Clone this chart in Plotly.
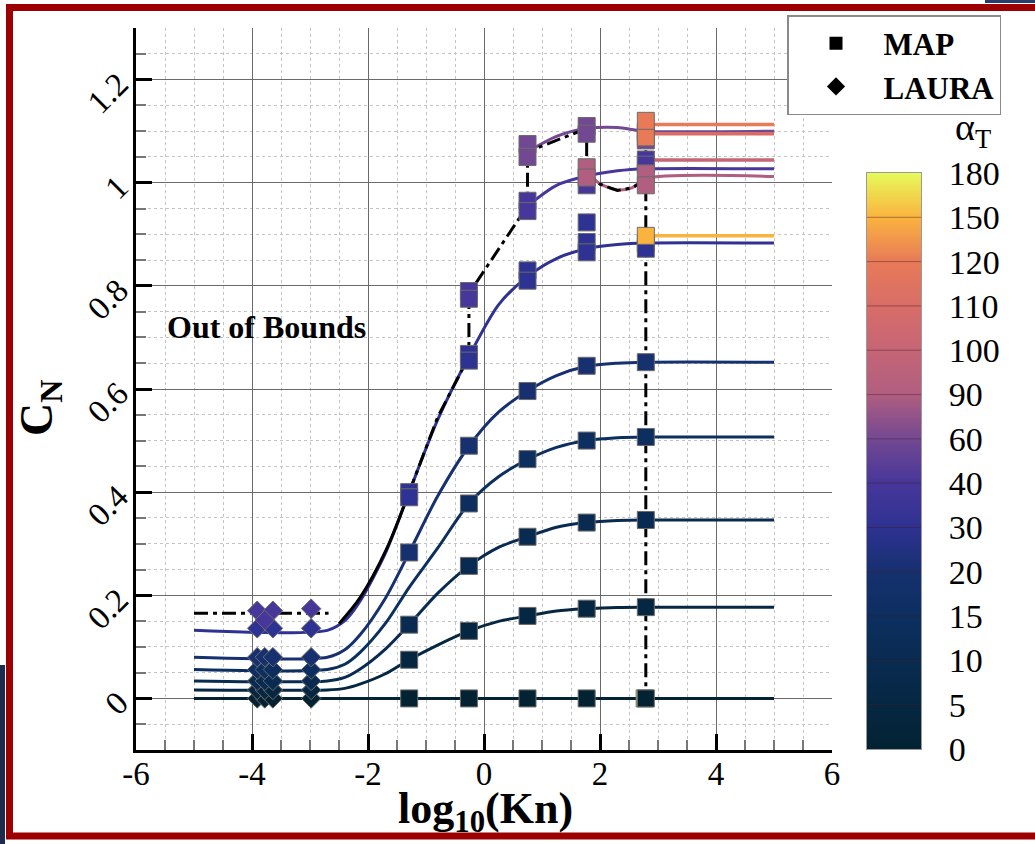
import plotly.graph_objects as go
import plotly.colors as pc

# ---------------- colour levels: alpha_T in degrees ----------------
alpha_levels = [0, 5, 10, 15, 20, 30, 40, 60, 90, 100, 110, 120, 150, 180]
alpha_ticktext = [str(a) for a in alpha_levels]

# ---------------- axis tick labels ----------------
x_tickvals = [-6, -4, -2, 0, 2, 4, 6]
x_ticktext = ["-6", "-4", "-2", "0", "2", "4", "6"]
y_tickvals = [0, 0.2, 0.4, 0.6, 0.8, 1.0, 1.2]
y_ticktext = ["0", "0.2", "0.4", "0.6", "0.8", "1", "1.2"]

# ---------------- bridging curves: C_N vs log10(Kn) ----------------
knot_x = [-5.0, -2.7, -2.4, -2.14, -1.7, -1.29, -0.8, -0.26, 0.25, 0.75, 1.25, 1.77, 2.3, 2.79, 5.0]
cn_a0 = [0, 0, 0, 0, 0, 0, 0, 0, 0, 0, 0, 0, 0, 0, 0]
cn_a5 = [0.0165, 0.0165, 0.0195, 0.0276, 0.0478, 0.075, 0.1035, 0.131, 0.1495, 0.160, 0.1697, 0.174, 0.1765, 0.177, 0.177]
cn_a10 = [0.034, 0.034, 0.0408, 0.0565, 0.0956, 0.143, 0.2036, 0.257, 0.293, 0.3135, 0.332, 0.341, 0.345, 0.346, 0.346]
cn_a15 = [0.056, 0.056, 0.0663, 0.0889, 0.1454, 0.2155, 0.2913, 0.378, 0.430, 0.463, 0.4867, 0.500, 0.5056, 0.507, 0.507]
cn_a20 = [0.080, 0.080, 0.0943, 0.1229, 0.1944, 0.283, 0.392, 0.489, 0.555, 0.596, 0.626, 0.644, 0.650, 0.652, 0.652]
cn_a30 = [0.132, 0.132, 0.1507, 0.1882, 0.2818, 0.400, 0.540, 0.663, 0.763, 0.818, 0.853, 0.872, 0.880, 0.883, 0.883]

a40_x = [0.75, 1.25, 1.77, 2.3, 2.79, 5.0]
a40_cn = [0.955, 0.995, 1.013, 1.023, 1.027, 1.027]
a60_x = [0.75, 1.25, 1.77, 2.3, 2.79, 5.0]
a60_cn = [1.06, 1.09, 1.105, 1.107, 1.100, 1.100]
a90_x = [1.77, 2.0, 2.3, 2.55, 2.79, 5.0]
a90_cn = [1.02, 0.998, 0.986, 0.99, 1.008, 1.012]

plateau_x = [2.79, 5.0]
plateau_alpha = [100, 110, 120, 150]
plateau_cn = [1.044, 1.095, 1.113, 0.897]

# ---------------- validity boundary (dash-dot) ----------------
bound_x = [-5.0, -2.68, None, -1.29, -0.8, -0.26, -0.26, 0.75, 0.75, 1.77, 1.77, 2.0, 2.3, 2.55, 2.79, None, 2.79, 2.79]
bound_cn = [0.165, 0.165, None, 0.40, 0.545, 0.663, 0.785, 0.955, 1.06, 1.105, 1.02, 0.997, 0.985, 0.99, 1.005, None, 1.10, 0.0]
bound_solid_x = [-2.5, -2.14, -1.7, -1.29]
bound_solid_cn = [0.145, 0.195, 0.285, 0.40]

# ---------------- MAP points ----------------
map_x = [2.77,
         -1.29, -0.26, 0.75, 1.77, 2.79,
         -1.29, -0.26, 0.75, 1.77, 2.79,
         -1.29, -0.26, 0.75, 1.77, 2.79,
         -0.26, 0.75, 1.77, 2.79,
         -1.29, -0.26, 0.75, 1.77, 2.79,
         -1.29, -1.29, -0.26, -0.26, 0.75, 0.75, 1.77, 1.77, 1.77, 2.79, 2.79,
         -0.26, -0.26, 0.75, 0.75, 1.77, 2.79, 2.79,
         0.75, 0.75, 1.77, 1.77, 2.79, 2.79,
         1.77, 1.77, 2.79, 2.79,
         2.79, 2.79,
         2.79]
map_cn = [0.0,
          0.0, 0.0, 0.0, 0.0, 0.0,
          0.075, 0.131, 0.160, 0.174, 0.177,
          0.143, 0.257, 0.3135, 0.341, 0.346,
          0.378, 0.464, 0.500, 0.507,
          0.283, 0.490, 0.596, 0.645, 0.652,
          0.40, 0.39, 0.668, 0.655, 0.83, 0.81, 0.885, 0.865, 0.923, 0.882, 0.872,
          0.79, 0.775, 0.965, 0.945, 0.995, 1.045, 1.035,
          1.075, 1.05, 1.11, 1.095, 1.098, 1.082,
          1.03, 1.01, 1.018, 0.995,
          1.088, 1.12,
          0.897]
map_alpha = [180,
             0, 0, 0, 0, 0,
             5, 5, 5, 5, 5,
             10, 10, 10, 10, 10,
             15, 15, 15, 15,
             20, 20, 20, 20, 20,
             30, 30, 30, 30, 30, 30, 30, 30, 30, 30, 30,
             40, 40, 40, 40, 40, 40, 40,
             60, 60, 60, 60, 60, 60,
             90, 90, 90, 90,
             120, 120,
             150]

# ---------------- LAURA points ----------------
laura_x = [-3.91, -3.78, -3.64, -2.98] * 5 + [-3.91, -3.64, -2.98, -3.91, -3.64, -2.98, -3.78]
laura_cn = ([0.0] * 4 + [0.0165] * 4 + [0.034] * 4 + [0.056] * 4 + [0.080] * 4
            + [0.136, 0.136, 0.136, 0.170, 0.170, 0.174, 0.152])
laura_alpha = ([0] * 4 + [5] * 4 + [10] * 4 + [15] * 4 + [20] * 4
               + [30, 30, 30, 40, 40, 40, 40])

thermal = pc.cmocean.thermal


def alpha_color(a):
    return pc.sample_colorscale(thermal, [a / 180.0])[0]


SERIF = "Liberation Serif"
fig = go.Figure()

# smooth bridging curves
for a, cn in [(0, cn_a0), (5, cn_a5), (10, cn_a10), (15, cn_a15), (20, cn_a20), (30, cn_a30)]:
    fig.add_trace(go.Scatter(x=knot_x, y=cn, mode="lines", line=dict(color=alpha_color(a), width=3, shape="spline", smoothing=0.8),
                             showlegend=False, hoverinfo="skip"))
for a, xs, cn in [(40, a40_x, a40_cn), (60, a60_x, a60_cn), (90, a90_x, a90_cn)]:
    fig.add_trace(go.Scatter(x=xs, y=cn, mode="lines", line=dict(color=alpha_color(a), width=3, shape="spline", smoothing=0.8),
                             showlegend=False, hoverinfo="skip"))
for a, c in zip(plateau_alpha, plateau_cn):
    fig.add_trace(go.Scatter(x=plateau_x, y=[c, c], mode="lines", line=dict(color=alpha_color(a), width=3.5),
                             showlegend=False, hoverinfo="skip"))

# validity boundary
fig.add_trace(go.Scatter(x=bound_solid_x, y=bound_solid_cn, mode="lines",
                         line=dict(color="black", width=3, shape="spline"), showlegend=False, hoverinfo="skip"))
fig.add_trace(go.Scatter(x=bound_x, y=bound_cn, mode="lines", connectgaps=False,
                         line=dict(color="black", width=3, dash="14px,5px,4px,5px"), showlegend=False, hoverinfo="skip"))

# data points
fig.add_trace(go.Scatter(x=laura_x, y=laura_cn, mode="markers", showlegend=False, hoverinfo="skip",
                         marker=dict(symbol="diamond", size=15, color=laura_alpha, colorscale=thermal, cmin=0, cmax=180,
                                     line=dict(color="#6b6b6b", width=1))))
fig.add_trace(go.Scatter(x=map_x, y=map_cn, mode="markers", showlegend=False, hoverinfo="skip",
                         marker=dict(symbol="square", size=17, color=map_alpha, colorscale=thermal, cmin=0, cmax=180,
                                     line=dict(color="#6b6b6b", width=1))))

# legend entries
fig.add_trace(go.Scatter(x=[None], y=[None], mode="markers", name="MAP",
                         marker=dict(symbol="square", size=13, color="black")))
fig.add_trace(go.Scatter(x=[None], y=[None], mode="markers", name="LAURA",
                         marker=dict(symbol="diamond", size=14, color="black")))

# colour bar drawn as a banded heatmap on its own axes
n_cells = 260
bar_y = [(k + 0.5) * 13.0 / n_cells for k in range(n_cells)]
bar_scale = [[i / 13.0, alpha_color(a)] for i, a in enumerate(alpha_levels)]
fig.add_trace(go.Heatmap(x=[0.5], y=bar_y, z=[[v] for v in bar_y], colorscale=bar_scale, zmin=0, zmax=13,
                         showscale=False, hoverinfo="skip", xaxis="x2", yaxis="y2"))

shapes = []
for i in range(1, 13):
    shapes.append(dict(type="line", xref="x2", yref="y2", x0=0, x1=1, y0=i, y1=i,
                       line=dict(color="rgba(70,30,30,0.45)", width=1)))

# page frame
PW, PH, L, T = 899.0, 722.0, 136.0, 28.0


def px_x(p):
    return (p - L) / PW


def px_y(p):
    return (T + PH - p) / PH


shapes.append(dict(type="rect", xref="paper", yref="paper", x0=px_x(9.5), x1=px_x(1070), y0=px_y(836), y1=px_y(7.5),
                   line=dict(color="#9c0000", width=7), fillcolor="rgba(0,0,0,0)", layer="below"))
shapes.append(dict(type="rect", xref="paper", yref="paper", x0=px_x(0), x1=px_x(5), y0=px_y(844), y1=px_y(665),
                   line=dict(width=0), fillcolor="#1d2b4d", layer="below"))
shapes.append(dict(type="rect", xref="paper", yref="paper", x0=px_x(985), x1=px_x(1035), y0=px_y(3), y1=px_y(0),
                   line=dict(width=0), fillcolor="#2c3c6a", layer="below"))

annotations = [
    dict(text="<b>Out of Bounds</b>", x=-3.75, y=0.72, xref="x", yref="y", showarrow=False,
         font=dict(family=SERIF, size=32, color="black")),
    dict(text="α<sub>T</sub>", x=px_x(973), y=px_y(156), xref="paper", yref="paper", xanchor="center",
         yanchor="bottom", showarrow=False, font=dict(family=SERIF, size=38, color="black")),
    dict(text="<b>C<sub>N</sub></b>", x=px_x(40), y=px_y(408), xref="paper", yref="paper", xanchor="center",
         yanchor="middle", textangle=-90, showarrow=False, font=dict(family=SERIF, size=46, color="black")),
    dict(text="<b>log<sub>10</sub>(Kn)</b>", x=px_x(485), y=px_y(811), xref="paper", yref="paper",
         xanchor="center", yanchor="middle", showarrow=False, font=dict(family=SERIF, size=44, color="black")),
]

fig.update_layout(
    width=1035, height=844,
    margin=dict(l=136, r=0, t=28, b=94, autoexpand=False),
    paper_bgcolor="white", plot_bgcolor="white",
    font=dict(family=SERIF, color="black"),
    shapes=shapes, annotations=annotations,
    legend=dict(x=px_x(787), y=px_y(15), xanchor="left", yanchor="top", bgcolor="white",
                bordercolor="#8a8a8a", borderwidth=1.5, itemwidth=85,
                font=dict(family=SERIF, size=31, color="black", weight="bold")),
    xaxis=dict(domain=[0, 696.0 / PW], range=[-6, 6], tickmode="array", tickvals=x_tickvals, ticktext=x_ticktext,
               showline=True, linecolor="black", linewidth=3, ticks="inside", ticklen=16, tickwidth=3, tickcolor="black",
               showgrid=True, gridcolor="#6a6a6a", gridwidth=1, zeroline=False, ticklabelstandoff=-8,
               tickfont=dict(family=SERIF, size=33),
               minor=dict(tickmode="linear", tick0=0, dtick=0.5, ticks="inside", ticklen=10, tickwidth=1.5,
                          tickcolor="#777777", showgrid=True, gridcolor="#c4c4c4", griddash="dot", gridwidth=1)),
    yaxis=dict(domain=[0, 1], range=[-0.1, 1.3], tickmode="array", tickvals=y_tickvals, ticktext=y_ticktext,
               showline=True, linecolor="black", linewidth=3, ticks="inside", ticklen=16, tickwidth=3, tickcolor="black",
               showgrid=True, gridcolor="#6a6a6a", gridwidth=1, zeroline=False, tickangle=-45, ticklabelstandoff=8,
               tickfont=dict(family=SERIF, size=33),
               minor=dict(tickmode="linear", tick0=0, dtick=0.05, ticks="inside", ticklen=10, tickwidth=1.5,
                          tickcolor="#777777", showgrid=True, gridcolor="#c4c4c4", griddash="dot", gridwidth=1)),
    xaxis2=dict(domain=[px_x(867), px_x(921)], range=[0, 1], anchor="y2", showticklabels=False, ticks="",
                showgrid=False, zeroline=False, showline=True, mirror=True, linecolor="#9a9a9a", linewidth=1),
    yaxis2=dict(domain=[px_y(749), px_y(173)], range=[0, 13], anchor="x2", side="right", tickmode="array",
                tickvals=list(range(14)), ticktext=alpha_ticktext, ticks="outside", ticklen=20,
                tickcolor="rgba(0,0,0,0)", showgrid=False, zeroline=False, showline=True, mirror=True,
                linecolor="#9a9a9a", linewidth=1, tickfont=dict(family=SERIF, size=34)),
)

fig.write_html("out.html")
